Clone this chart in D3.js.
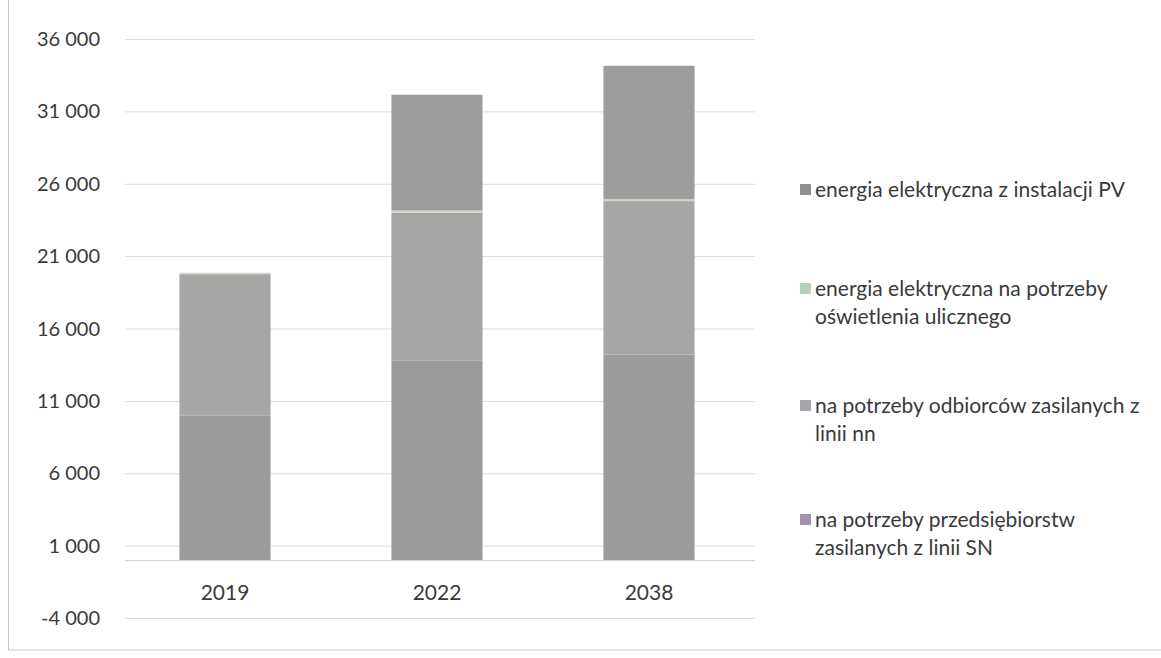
<!DOCTYPE html>
<html><head><meta charset="utf-8">
<script src="https://cdn.jsdelivr.net/npm/d3@7"></script>
<style>body{margin:0;background:#fff;} svg{display:block;}</style>
</head><body><svg id="c" width="1161" height="658"></svg>
<script>
const years = ["2019", "2022", "2038"];
const seriesNames = [
  "na potrzeby przedsiębiorstw zasilanych z linii SN",
  "na potrzeby odbiorców zasilanych z linii nn",
  "energia elektryczna na potrzeby oświetlenia ulicznego",
  "energia elektryczna z instalacji PV"
];
const sn = [10000, 13800, 14200];
const nn = [9750, 10200, 10600];
const lighting = [100, 150, 150];
const pv = [0, 8000, 9200];
const yTicks = [-4000, 1000, 6000, 11000, 16000, 21000, 26000, 31000, 36000];
const legendLines = [
  ["energia elektryczna z instalacji PV"],
  ["energia elektryczna na potrzeby", "oświetlenia ulicznego"],
  ["na potrzeby odbiorców zasilanych z", "linii nn"],
  ["na potrzeby przedsiębiorstw", "zasilanych z linii SN"]
];
const barColors = ["#9b9c99", "#a5a7a4", "#cfd1cd", "#9d9e9b"];
const swatchColors = ["#8f8f8f", "#b3d1bb", "#a8a3aa", "#a293ab"];

const svg = d3.select("#c");
const font = "Lato, 'Open Sans', sans-serif";

// frame
svg.append("rect").attr("x", 8.5).attr("y", -2).attr("width", 1160).attr("height", 652)
  .attr("fill", "none").attr("stroke", "#c8c8c8").attr("stroke-width", 1);

const y = d3.scaleLinear().domain([-4000, 36000]).range([618, 39]);
const x = d3.scaleBand().domain(years).range([119, 755]).paddingInner(0.57).paddingOuter(0.285);

const fmt = v => d3.format(",")(v).replace(/,/g, " ").replace("−", "-");

// gridlines
svg.append("g").selectAll("line").data(yTicks).join("line")
  .attr("x1", 125).attr("x2", 755)
  .attr("y1", d => y(d) + 0.5).attr("y2", d => y(d) + 0.5)
  .attr("stroke", "#dcdcdc").attr("stroke-width", 1);

// y labels
svg.append("g").selectAll("text").data(yTicks).join("text")
  .attr("x", 100).attr("y", d => y(d)).attr("dy", "0.35em")
  .attr("text-anchor", "end").attr("font-family", font).attr("font-size", 20)
  .attr("fill", "#3a3a3a").text(d => fmt(d));

// stacked bars
const rows = years.map((yr, i) => ({year: yr, s0: sn[i], s1: nn[i], s2: lighting[i], s3: pv[i]}));
const stack = d3.stack().keys(["s0", "s1", "s2", "s3"])(rows);
svg.append("g").selectAll("g").data(stack).join("g")
  .attr("fill", (d, i) => barColors[i])
  .selectAll("rect").data(d => d).join("rect")
  .attr("x", d => x(d.data.year))
  .attr("width", x.bandwidth())
  .attr("y", d => y(d[1]))
  .attr("height", d => Math.max(0, y(d[0]) - y(d[1])));

// zero axis line
svg.append("line").attr("x1", 125).attr("x2", 755)
  .attr("y1", y(0) + 0.5).attr("y2", y(0) + 0.5)
  .attr("stroke", "#d0d0d0");

// x labels
svg.append("g").selectAll("text").data(years).join("text")
  .attr("x", d => x(d) + x.bandwidth() / 2).attr("y", 600)
  .attr("text-anchor", "middle").attr("font-family", font).attr("font-size", 21)
  .attr("fill", "#3a3a3a").text(d => d);

// legend
const legendY = [190, 289, 406, 520];
const lg = svg.append("g");
legendLines.forEach((lines, i) => {
  lg.append("rect").attr("x", 800).attr("y", legendY[i] - 6).attr("width", 11).attr("height", 11)
    .attr("fill", swatchColors[i]);
  lines.forEach((t, j) => {
    lg.append("text").attr("x", 815).attr("y", legendY[i] + j * 28).attr("dy", "0.35em")
      .attr("font-family", font).attr("font-size", 21).attr("fill", "#3a3a3a").text(t);
  });
});
</script></body></html>
